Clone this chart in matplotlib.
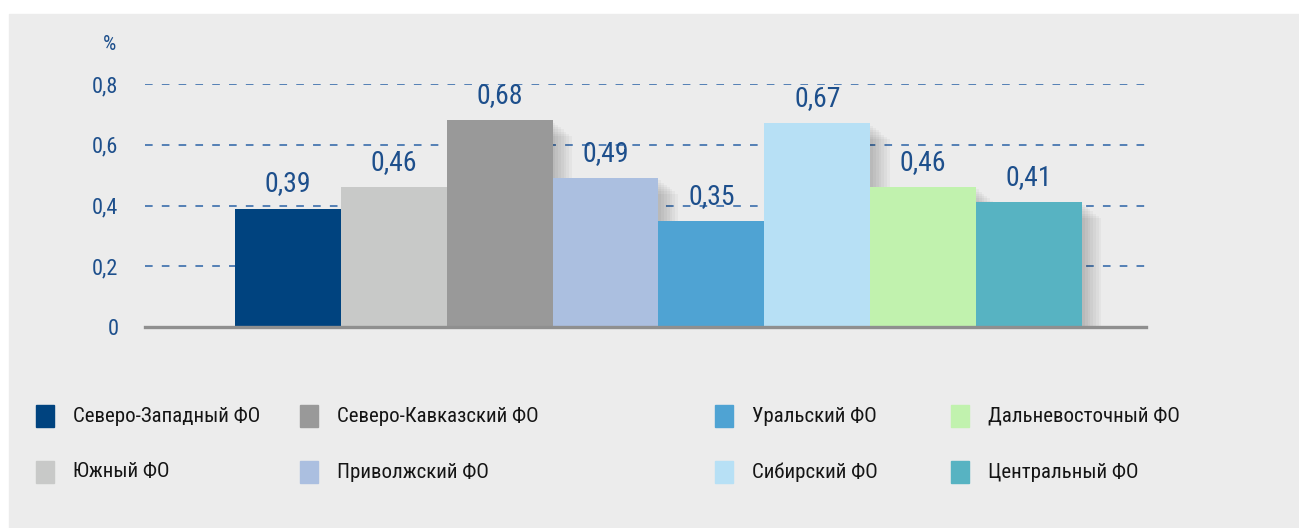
import matplotlib.pyplot as plt
import matplotlib.patheffects as pe
from matplotlib.patches import Rectangle

# данные
okruga = ["Северо-Западный ФО", "Южный ФО", "Северо-Кавказский ФО", "Приволжский ФО",
          "Уральский ФО", "Сибирский ФО", "Дальневосточный ФО", "Центральный ФО"]
znachenia = [0.39, 0.46, 0.68, 0.49, 0.35, 0.67, 0.46, 0.41]
cveta = ["#00437f", "#c8c9c8", "#999999", "#abbfe0",
         "#4fa3d3", "#b7e0f5", "#c1f2ae", "#57b3c2"]
y_ticks = [0, 0.2, 0.4, 0.6, 0.8]
y_labels = ["0", "0,2", "0,4", "0,6", "0,8"]

plt.rcParams['font.family'] = ['Roboto Condensed', 'Liberation Sans Narrow', 'DejaVu Sans']
plt.rcParams['font.stretch'] = 'condensed'

W, H = 1299, 528
fig = plt.figure(figsize=(W / 100, H / 100), dpi=100)
fig.patch.set_facecolor("white")
fig.patches.append(Rectangle((9 / W, 0), 1 - 9 / W, (H - 14) / H,
                             transform=fig.transFigure, color="#ececec", zorder=-5))

ax = fig.add_axes([145 / W, 1 - 327 / H, (1146 - 145) / W, (327 - 84) / H])
ax.set_facecolor("none")
ax.set_zorder(2)

x = list(range(len(znachenia)))
# мягкая тень справа-снизу
sombra = [pe.SimplePatchShadow(offset=(d, -d * 0.8), shadow_rgbFace="k", alpha=0.03)
          for d in (2, 4, 6, 8, 10, 12, 14)]
bars = ax.bar(x, znachenia, width=1.0, color=cveta, zorder=3)
for b in bars:
    b.set_path_effects(sombra + [pe.Normal()])

for xi, v in zip(x, znachenia):
    ax.annotate(f"{v:.2f}".replace(".", ","), (xi, v), xytext=(0, 8),
                textcoords="offset points", ha="center", va="bottom",
                fontsize=20, color="#1d4f8c", zorder=5, annotation_clip=False)

ax.set_xlim(-1.349, 8.104)
ax.set_ylim(0, 0.8)
ax.set_yticks(y_ticks)
ax.set_yticklabels(y_labels)
ax.tick_params(axis="y", length=0, pad=19, labelsize=16, labelcolor="#1d4f8c")
ax.set_xticks([])

for t in y_ticks[1:]:
    ax.axhline(t, color="#2a62a6", lw=1.1, ls=(0, (5, 6)), zorder=1)

for s in ["top", "right", "left"]:
    ax.spines[s].set_visible(False)
ax.spines["bottom"].set_color("#8f8f8f")
ax.spines["bottom"].set_linewidth(2.4)
ax.spines["bottom"].set_zorder(4)

fig.text(110 / W, 1 - 45 / H, "%", ha="center", va="center", fontsize=15, color="#1d4f8c")

# легенда вручную: 4 колонки по 2 строки
col_x = [36, 300, 715, 951]
row_y = [416, 472]
for i, (name, c) in enumerate(zip(okruga, cveta)):
    cx = col_x[i // 2]
    cy = row_y[i % 2]
    fig.patches.append(Rectangle((cx / W, 1 - (cy + 11) / H), 18 / W, 22 / H,
                                 transform=fig.transFigure, color=c, zorder=2))
    fig.text((cx + 37) / W, 1 - cy / H, name, ha="left", va="center",
             fontsize=15, color="#151515")

fig.savefig("out.png", dpi=100, facecolor=fig.get_facecolor())
